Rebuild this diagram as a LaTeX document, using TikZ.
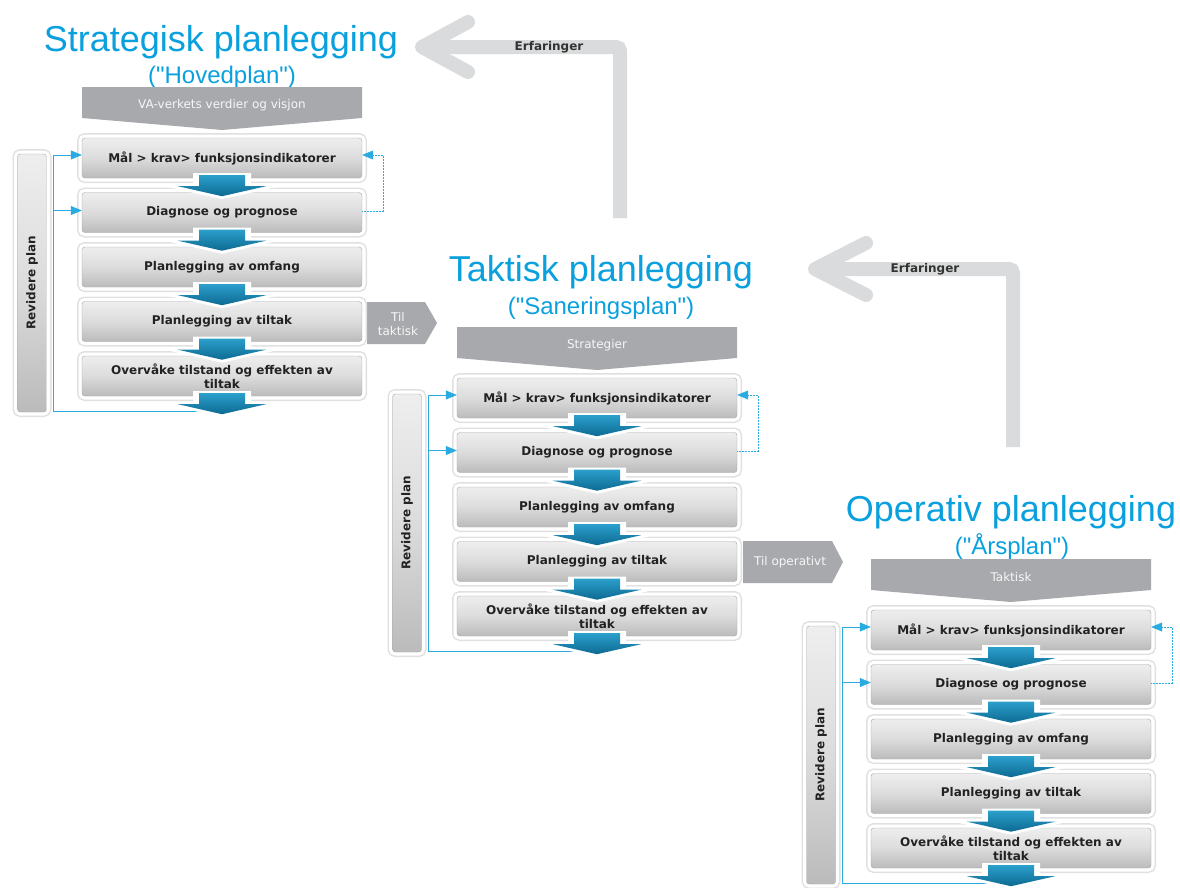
\documentclass[tikz,border=0pt]{standalone}
\usepackage{fontspec}
\setmainfont{DejaVu Sans}
\newfontfamily\titlefont{Liberation Sans}
\usetikzlibrary{arrows.meta,calc}
\definecolor{titleblue}{HTML}{0AA0DE}
\definecolor{lineblue}{HTML}{29ABE2}
\definecolor{bannergrey}{HTML}{A7A9AC}
\definecolor{expgrey}{HTML}{DADBDC}
\definecolor{arrtop}{HTML}{2B9FCB}
\definecolor{arrbot}{HTML}{0D6A92}
\definecolor{boxtop}{HTML}{EEEEEE}
\definecolor{boxmid}{HTML}{DCDCDC}
\definecolor{boxbot}{HTML}{BBBBBB}
\definecolor{txtdark}{HTML}{222222}
\tikzset{
  stepbox/.style={rounded corners=3pt, minimum width=280pt, minimum height=40pt,
    inner sep=0pt, align=center, text=txtdark,
    font=\bfseries\fontsize{12}{14.5}\selectfont,
    preaction={draw=black!12, line width=10pt},
    preaction={draw=white, line width=7pt},
    top color=boxtop, bottom color=boxbot, middle color=boxmid,
    draw=black!35, line width=0.4pt},
  revbar/.style={stepbox, rotate=90, minimum width=258pt, minimum height=29pt,
    font=\bfseries\fontsize{12}{14}\selectfont},
  bannerfill/.style={fill=bannergrey},
  bantext/.style={text=white!97!black, inner sep=0pt, align=center,
    font=\fontsize{12}{14}\selectfont},
  cline/.style={draw=lineblue, line width=0.7pt},
  ctip/.style={-{Triangle[length=11pt,width=9pt]}},
  dline/.style={draw=lineblue, line width=0.5pt, densely dotted},
  exparrow/.style={draw=expgrey, line width=14pt},
  exptext/.style={text=black!80, inner sep=0pt, font=\bfseries\fontsize{12}{14}\selectfont},
  titletext/.style={text=titleblue, font=\titlefont\fontsize{36}{40}\selectfont, anchor=base, inner sep=0pt},
  subtext/.style={text=titleblue, font=\titlefont\fontsize{24}{28}\selectfont, anchor=base, inner sep=0pt},
}
\begin{document}
\begin{tikzpicture}[x=1pt,y=-1pt]
\useasboundingbox (0,0) rectangle (1180,887);

% ---------- Erfaringer arrows ----------
\coordinate (e1a) at (620,218);
\coordinate (e1b) at (620,47);
\coordinate (e1c) at (422,47);
\coordinate (e1u) at (468,22);
\coordinate (e1d) at (468,72);
\draw[exparrow, rounded corners=4pt] (e1a) -- (e1b) -- (e1c);
\draw[exparrow, line cap=round, line join=round] (e1u) -- (e1c) -- (e1d);
\node[exptext] (erf1) at (549,47) {Erfaringer};

\coordinate (e2a) at (1013,447);
\coordinate (e2b) at (1013,269);
\coordinate (e2c) at (815,269);
\coordinate (e2u) at (866,243);
\coordinate (e2d) at (866,295);
\draw[exparrow, rounded corners=4pt] (e2a) -- (e2b) -- (e2c);
\draw[exparrow, line cap=round, line join=round] (e2u) -- (e2c) -- (e2d);
\node[exptext] (erf2) at (925,269) {Erfaringer};

% ---------- titles ----------
\node[titletext] (t1) at (221,51) {Strategisk planlegging};
\node[subtext] (s1) at (222,83) {("Hovedplan")};
\node[titletext] (t2) at (601,281) {Taktisk planlegging};
\node[subtext] (s2) at (601,314) {("Saneringsplan")};
\node[titletext] (t3) at (1011,521) {Operativ planlegging};
\node[subtext] (s3) at (1012,554) {("Årsplan")};

% ---------- "Til" arrows ----------
\fill[bannerfill] (367,302) -- (425,302) -- (437,323) -- (425,344) -- (367,344) -- cycle;
\node[bantext] (til1) at (398,324) {Til\\taktisk};
\fill[bannerfill] (743,541) -- (832,541) -- (843,562) -- (832,583) -- (743,583) -- cycle;
\node[bantext] (til2) at (790,562) {Til operativt};

% ---------- three planning blocks ----------
\foreach \k/\cx/\yy/\ban in {1/222/158/{VA-verkets verdier og visjon},2/597/398/{Strategier},3/1011/630/{Taktisk}}{
  % banner
  \fill[bannerfill] (\cx-140,\yy-71) -- (\cx+140,\yy-71) -- (\cx+140,\yy-40)
        -- (\cx,\yy-28) -- (\cx-140,\yy-40) -- cycle;
  \node[bantext] (ban\k) at (\cx,\yy-53) {\ban};
  % boxes
  \foreach \i/\t in {1/{Mål > krav> funksjonsindikatorer},2/{Diagnose og prognose},
      3/{Planlegging av omfang},4/{Planlegging av tiltak},5/{Overvåke tilstand og effekten av\\tiltak}}{
    \node[stepbox] (b\k-\i) at (\cx,{\yy+54.5*(\i-1)}) {\t};
  }
  % revise bar
  \node[revbar] (r\k) at (\cx-190,\yy+125) {Revidere plan};
  % connectors
  \coordinate (lb\k) at (\cx-20,{\yy+54.5*4+35});
  \coordinate (lv\k) at (\cx-169,{\yy+54.5*4+35});
  \coordinate (ta\k) at ($(b\k-1.west)+(0,-3)$);
  \coordinate (ua\k) at ($(b\k-2.west)+(0,-2)$);
  \coordinate (dt\k) at ($(b\k-1.east)+(0,-3)$);
  \coordinate (du\k) at ($(b\k-2.east)+(0,-1)$);
  \draw[cline, ctip] (lb\k) -- (lv\k) |- (ta\k);
  \draw[cline, ctip] (lv\k |- ua\k) -- (ua\k);
  \draw[dline, ctip] (du\k) -- ++(21,0) |- (dt\k);
  % blue down arrows
  \foreach \i in {1,...,5}{
    \begin{scope}[shift={(b\k-\i.south)}]
      \fill[white] (-29,-5) -- (29,-5) -- (29,7) -- (62,7) -- (0,21) -- (-62,7) -- (-29,7) -- cycle;
      \shade[top color=arrtop, bottom color=arrbot] (-23,-3) -- (23,-3) -- (23,8) -- (44,8)
            -- (0,18) -- (-44,8) -- (-23,8) -- cycle;
    \end{scope}
  }
}
\end{tikzpicture}
\end{document}
